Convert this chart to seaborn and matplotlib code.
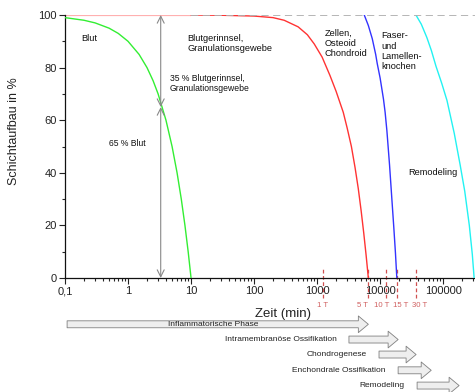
import numpy as np
import pandas as pd
import matplotlib
matplotlib.use("Agg")
import matplotlib.pyplot as plt
import seaborn as sns

# data (x in minutes, y in %)
blut_x = [0.1, 0.2, 0.3, 0.5, 0.7, 1, 1.5, 2, 2.5, 3, 4, 5, 6, 7, 8, 9, 10]
blut_y = [99, 98, 97, 95, 93, 90, 85, 80, 75, 70, 60, 50, 40, 30, 20, 10, 0]

granu_x = [10, 30, 100, 200, 300, 500, 700, 900, 1200, 1600, 2000, 2600, 3000, 3500, 4000, 4500, 5000, 5500, 6000, 6500]
granu_y = [100, 99.9, 99.6, 99, 98, 95.5, 92.5, 89, 84, 77, 71, 63, 57, 50, 42, 34, 25.5, 17, 8.5, 0]

zellen_x = [5600, 6500, 7500, 8500, 9000, 10000, 11300, 12000, 12800, 14100, 15300, 16500, 17500, 18400]
zellen_y = [100, 96, 91, 85, 81.5, 76, 68, 63, 56, 43, 30.5, 19, 9.5, 0]

knochen_x = [37000, 45000, 55000, 65000, 77000, 95000, 115000, 150000, 186000, 220000, 260000, 290000, 310000]
knochen_y = [100, 96.5, 91.5, 86.5, 80.5, 74, 67.5, 55, 43, 33, 20, 9, 0]

x_ticks = [0.1, 1, 10, 100, 1000, 10000, 100000]
x_ticklabels = ["0,1", "1", "10", "100", "1000", "10000", "100000"]

day_labels = ["1 T", "5 T", "10 T", "15 T", "30 T"]
day_minutes = [1230, 6500, 12300, 18800, 37200]
day_nudge = [0, -4.5, -3, 2, 2.2]  # label shift in points

phase_names = ["Inflammatorische Phase", "Intramembranöse Ossifikation", "Chondrogenese",
               "Enchondrale Ossifikation", "Remodeling"]
phase_start = [0.108, 3200, 9600, 19300, 38600]
phase_end = [6500, 19300, 37200, 64600, 179000]
phase_row = [-0.176, -0.234, -0.291, -0.351, -0.409]

arrow_x = 3.3
arrow_split = 65

sns.set_style("ticks")
plt.rcParams["font.family"] = ["Liberation Sans", "DejaVu Sans"]

fig = plt.figure(figsize=(4.75, 3.92), dpi=100)
ax = fig.add_axes([65 / 475, 114 / 392, 410 / 475, 263 / 392])
ax.set_xscale("log")

# top reference lines
ax.plot([0.1, 10], [100, 100], color="#ffb0b0", lw=1.6, zorder=2, solid_capstyle="butt")
ax.plot([10, 3.2e5], [100, 100], color="#b0b0b0", lw=1.3, ls=(0, (4, 2.5)), zorder=4)

curves = [
    (blut_x, blut_y, "#33ee33"),
    (granu_x, granu_y, "#ff3333"),
    (zellen_x, zellen_y, "#3333ff"),
    (knochen_x, knochen_y, "#22f2f2"),
]
for cx, cy, col in curves:
    sns.lineplot(x=cx, y=cy, color=col, lw=1.0, ax=ax, sort=False, estimator=None, zorder=3)

# double arrows at 3.3 min
for y0, y1 in [(0, arrow_split), (arrow_split, 100)]:
    ax.annotate("", xy=(arrow_x, y1), xytext=(arrow_x, y0),
                arrowprops=dict(arrowstyle="<->,head_length=0.5,head_width=0.25",
                                color="#888888", lw=0.8, shrinkA=0, shrinkB=0))

ax.set_xlim(0.1, 3.2e5)
ax.set_ylim(0, 100)
ax.set_xticks(x_ticks)
ax.set_xticklabels(x_ticklabels)
ax.set_yticks([0, 20, 40, 60, 80, 100])
ax.set_yticks([10, 30, 50, 70, 90], minor=True)
ax.tick_params(axis="both", which="major", direction="out", length=4, width=0.8,
               labelsize=8, colors="#222222", pad=2)
ax.tick_params(axis="both", which="minor", direction="out", length=2.5, width=0.8)
sns.despine(ax=ax)
for s in ["left", "bottom"]:
    ax.spines[s].set_linewidth(0.9)
    ax.spines[s].set_color("#111111")

ax.set_ylabel("Schichtaufbau in %", fontsize=9, color="#222222")
ax.yaxis.set_label_coords(-0.11, 0.56)
ax.set_xlabel("Zeit (min)", fontsize=9.5, color="#222222")
ax.xaxis.set_label_coords(0.532, -0.115)

# labels in the plot
txt = dict(fontsize=6.7, color="#111111", va="center", ha="left", linespacing=1.25)
ax.text(0.18, 90.9, "Blut", **txt)
ax.text(8.85, 89.2, "Blutgerinnsel,\nGranulationsgewebe", **txt)
ax.text(4.64, 74.0, "35 % Blutgerinnsel,\nGranulationsgewebe", **{**txt, "fontsize": 6.2, "linespacing": 1.1})
ax.text(0.5, 51.2, "65 % Blut", **{**txt, "fontsize": 6.2})
ax.text(1310, 89.1, "Zellen,\nOsteoid\nChondroid", **{**txt, "linespacing": 1.15})
ax.text(10600, 86.2, "Faser-\nund\nLamellen-\nknochen", **{**txt, "linespacing": 1.2})
ax.text(27800, 40.3, "Remodeling", **txt)

# day markers below the axis
trans = ax.get_xaxis_transform()
for lab, m, dx in zip(day_labels, day_minutes, day_nudge):
    ax.axvline(m, ymin=-0.076, ymax=0.034, color="#d05050", lw=0.9, ls=(0, (3, 2)), clip_on=False)
    ax.annotate(lab, xy=(m, -0.103), xycoords=trans, xytext=(dx, 0), textcoords="offset points",
                ha="center", va="center", fontsize=5.6, color="#d06060", annotation_clip=False)

# phase arrows
for i, (name, s, e, yy) in enumerate(zip(phase_names, phase_start, phase_end, phase_row)):
    ax.annotate("", xy=(e, yy), xycoords=trans, xytext=(s, yy), textcoords=trans,
                annotation_clip=False,
                arrowprops=dict(arrowstyle="simple,head_length=0.72,head_width=1.2,tail_width=0.5",
                                mutation_scale=10, fc="#eeeeee", ec="#808080", lw=0.6,
                                shrinkA=0, shrinkB=0))
    if i == 0:
        ax.text(np.sqrt(s * e) * 0.85, yy, name, transform=trans, ha="center", va="center",
                fontsize=6, color="#222222", zorder=5)
    else:
        ax.annotate(name, xy=(s, yy), xycoords=trans, xytext=(-9, 0), textcoords="offset points",
                    ha="right", va="center", fontsize=6, color="#222222", annotation_clip=False)

fig.savefig("out.png", dpi=100)
